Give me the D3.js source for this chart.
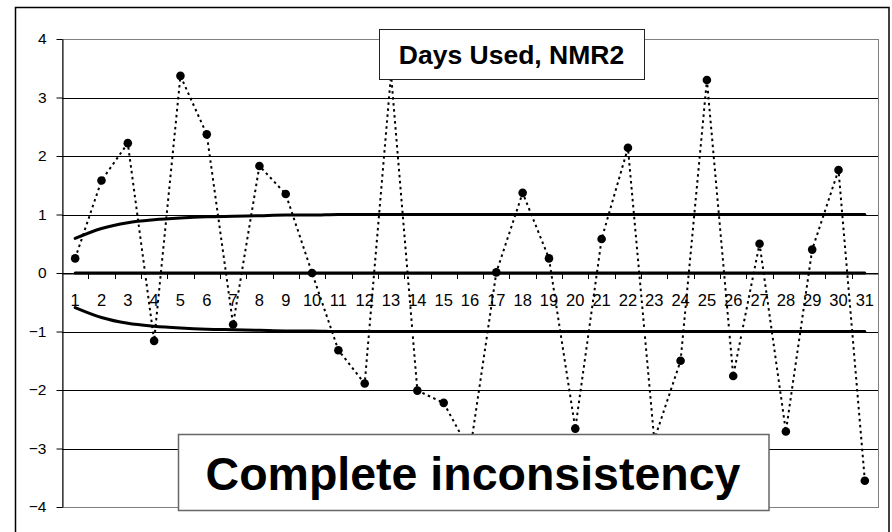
<!DOCTYPE html>
<html>
<head>
<meta charset="utf-8">
<script src="https://cdn.jsdelivr.net/npm/d3@7"></script>
<style>
  html, body { margin: 0; padding: 0; background: #fff; }
  svg { display: block; font-family: "Liberation Sans", Arial, sans-serif; }
</style>
</head>
<body>
<svg id="chart" width="892" height="532"></svg>
<script>
const categories = d3.range(1, 32).map(String);
const values = [0.25, 1.58, 2.22, -1.16, 3.37, 2.37, -0.88, 1.83, 1.35, 0.0,
                -1.32, -1.89, 3.4, -2.01, -2.22, -3.05, 0.01, 1.37, 0.25, -2.66,
                0.58, 2.14, -2.85, -1.5, 3.3, -1.76, 0.5, -2.71, 0.4, 1.76, -3.55];
const upperLimit = [0.59, 0.76, 0.86, 0.91, 0.94, 0.96, 0.97, 0.98, 0.99, 0.99,
                    1, 1, 1, 1, 1, 1, 1, 1, 1, 1, 1, 1, 1, 1, 1, 1, 1, 1, 1, 1, 1];
const lowerLimit = [-0.59, -0.76, -0.86, -0.91, -0.94, -0.96, -0.97, -0.98, -0.99, -0.99,
                    -1, -1, -1, -1, -1, -1, -1, -1, -1, -1, -1, -1, -1, -1, -1, -1, -1, -1, -1, -1, -1];
const centerLine = categories.map(() => 0);
const yTicks = [-4, -3, -2, -1, 0, 1, 2, 3, 4];
const titleText = "Days Used, NMR2";
const noteText = "Complete inconsistency";

const svg = d3.select("#chart");
const plot = { left: 62, right: 878, top: 39, bottom: 507 };

const x = d3.scaleBand().domain(categories).range([plot.left, plot.right]).padding(0);
const y = d3.scaleLinear().domain([-4, 4]).range([plot.bottom, plot.top]);
const cx = c => x(c) + x.bandwidth() / 2;

// outer chart border
svg.append("rect")
  .attr("x", 15.5).attr("y", 7.5).attr("width", 873.5).attr("height", 560)
  .attr("fill", "#fff").attr("stroke", "#000").attr("stroke-width", 1.5);

// plot area border
svg.append("rect")
  .attr("x", plot.left + 0.5).attr("y", plot.top + 0.5)
  .attr("width", plot.right - plot.left).attr("height", plot.bottom - plot.top)
  .attr("fill", "#fff").attr("stroke", "#808080").attr("stroke-width", 1);

// gridlines
svg.append("g").selectAll("line")
  .data(yTicks.filter(t => t !== 4 && t !== -4))
  .join("line")
  .attr("x1", plot.left).attr("x2", plot.right)
  .attr("y1", d => Math.round(y(d)) + 0.5).attr("y2", d => Math.round(y(d)) + 0.5)
  .attr("stroke", "#000").attr("stroke-width", 1);

// y axis
const yAxis = svg.append("g")
  .attr("transform", `translate(${plot.left + 0.5},0)`)
  .call(d3.axisLeft(y).tickValues(yTicks).tickSize(6).tickPadding(10).tickSizeOuter(0)
    .tickFormat(d3.format("d")));
yAxis.select(".domain").attr("stroke", "#000");
yAxis.selectAll(".tick line").attr("stroke", "#000");
yAxis.selectAll("text").attr("font-size", 15.5).attr("fill", "#000")
  .attr("font-family", "Liberation Sans, Arial, sans-serif");

// x axis at zero
const xAxis = svg.append("g")
  .attr("transform", `translate(0,${Math.round(y(0)) + 0.5})`)
  .call(d3.axisBottom(x).tickSize(0).tickPadding(21).tickSizeOuter(0));
xAxis.select(".domain").attr("stroke", "#000");
xAxis.selectAll("text").attr("font-size", 16.5).attr("fill", "#000")
  .attr("font-family", "Liberation Sans, Arial, sans-serif");
// boundary tick marks
svg.append("g").selectAll("line")
  .data(categories.slice(1))
  .join("line")
  .attr("x1", d => Math.round(x(d)) + 0.5).attr("x2", d => Math.round(x(d)) + 0.5)
  .attr("y1", Math.round(y(0))).attr("y2", Math.round(y(0)) + 6)
  .attr("stroke", "#000").attr("stroke-width", 1);

// control limits and center line
const smooth = d3.line().x((d, i) => cx(categories[i])).y(d => y(d)).curve(d3.curveMonotoneX);
[upperLimit, lowerLimit, centerLine].forEach(arr => {
  svg.append("path").datum(arr)
    .attr("d", smooth)
    .attr("fill", "none").attr("stroke", "#000").attr("stroke-width", 3)
    .attr("stroke-linecap", "round");
});

// data series: dotted line
const straight = d3.line().x((d, i) => cx(categories[i])).y(d => y(d));
svg.append("path").datum(values)
  .attr("d", straight)
  .attr("fill", "none").attr("stroke", "#000").attr("stroke-width", 2)
  .attr("stroke-dasharray", "2.5,3.5");

svg.append("g").selectAll("circle")
  .data(values)
  .join("circle")
  .attr("cx", (d, i) => cx(categories[i]))
  .attr("cy", d => y(d))
  .attr("r", 4.3)
  .attr("fill", "#000");

// title box
const tb = svg.append("g");
tb.append("rect")
  .attr("x", 379.5).attr("y", 29.5).attr("width", 265).attr("height", 50)
  .attr("fill", "#fff").attr("stroke", "#222").attr("stroke-width", 1);
tb.append("text")
  .attr("x", 511.5).attr("y", 63.5)
  .attr("text-anchor", "middle")
  .attr("font-size", 26.5).attr("font-weight", "bold").attr("fill", "#000")
  .text(titleText);

// note box
const nb = svg.append("g");
nb.append("rect")
  .attr("x", 178.5).attr("y", 434.5).attr("width", 590.5).attr("height", 76)
  .attr("fill", "#fff").attr("stroke", "#666").attr("stroke-width", 1.5);
nb.append("text")
  .attr("x", 473).attr("y", 490)
  .attr("text-anchor", "middle")
  .attr("font-size", 46.5).attr("font-weight", "bold").attr("fill", "#000")
  .text(noteText);
</script>
</body>
</html>
